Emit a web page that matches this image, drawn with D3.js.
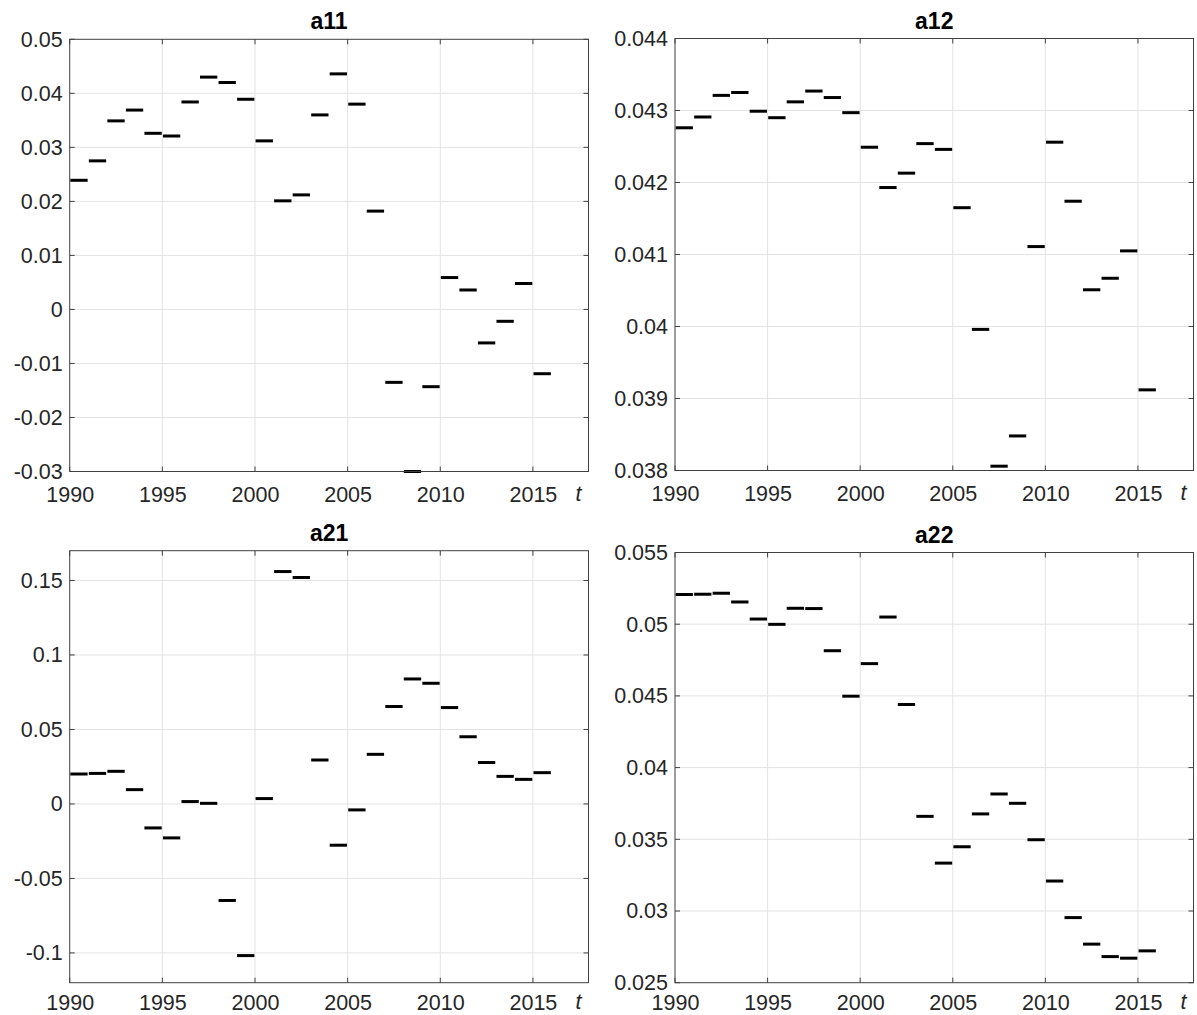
<!DOCTYPE html>
<html>
<head>
<meta charset="utf-8">
<script src="https://cdn.jsdelivr.net/npm/d3@7"></script>
<style>
  html, body { margin: 0; padding: 0; background: #fff; }
  svg { display: block; }
  text { font-family: "Liberation Sans", Arial, Helvetica, sans-serif; fill: #262626; }
</style>
</head>
<body>
<svg id="chart" width="1197" height="1015"></svg>
<script>
// Years: each coefficient holds for one year, drawn from t to t+1
const years = d3.range(1990, 2016);

const a11 = [0.0239, 0.0275, 0.0349, 0.0369, 0.0326, 0.0321, 0.0384, 0.0430, 0.0420, 0.0389,
             0.0312, 0.0201, 0.0212, 0.0360, 0.0436, 0.0380, 0.0182, -0.0135, -0.0300, -0.0143,
             0.0059, 0.0036, -0.0062, -0.0022, 0.0048, -0.0119];

const a12 = [0.04276, 0.04291, 0.04321, 0.04325, 0.04299, 0.04290, 0.04312, 0.04327, 0.04318, 0.04297,
             0.04249, 0.04193, 0.04213, 0.04254, 0.04246, 0.04165, 0.03996, 0.03806, 0.03848, 0.04111,
             0.04256, 0.04174, 0.04051, 0.04067, 0.04105, 0.03912];

const a21 = [0.0201, 0.0205, 0.0219, 0.0096, -0.0161, -0.0228, 0.0016, 0.0004, -0.0648, -0.1018,
             0.0036, 0.1560, 0.1520, 0.0295, -0.0277, -0.0040, 0.0333, 0.0654, 0.0839, 0.0810,
             0.0647, 0.0451, 0.0278, 0.0185, 0.0165, 0.0210];

const a22 = [0.05207, 0.05209, 0.05216, 0.05155, 0.05036, 0.04999, 0.05111, 0.05109, 0.04815, 0.04498,
             0.04725, 0.05050, 0.04440, 0.03660, 0.03334, 0.03448, 0.03677, 0.03816, 0.03751, 0.03497,
             0.03209, 0.02954, 0.02769, 0.02682, 0.02671, 0.02722];

const xTicks = [1990, 1995, 2000, 2005, 2010, 2015];
const xDomain = [1990, 2018];

const a11Ticks = [-0.03, -0.02, -0.01, 0, 0.01, 0.02, 0.03, 0.04, 0.05];
const a12Ticks = [0.038, 0.039, 0.040, 0.041, 0.042, 0.043, 0.044];
const a21Ticks = [-0.1, -0.05, 0, 0.05, 0.1, 0.15];
const a22Ticks = [0.025, 0.03, 0.035, 0.04, 0.045, 0.05, 0.055];

const a11Domain = [-0.03, 0.05];
const a12Domain = [0.038, 0.044];
const a21Domain = [-0.12, 0.17];
const a22Domain = [0.025, 0.055];

const panels = [
  { title: "a11", values: a11, ticks: a11Ticks, domain: a11Domain, x0: 69.7, x1: 588.5, y0: 39.3, y1: 471.5, pad: 15 },
  { title: "a12", values: a12, ticks: a12Ticks, domain: a12Domain, x0: 675,  x1: 1193.5, y0: 38.5, y1: 470.5, pad: 15 },
  { title: "a21", values: a21, ticks: a21Ticks, domain: a21Domain, x0: 69.7, x1: 588.5, y0: 550.7, y1: 982.7, pad: 12 },
  { title: "a22", values: a22, ticks: a22Ticks, domain: a22Domain, x0: 675,  x1: 1193.5, y0: 552.5, y1: 982.7, pad: 12 }
];

// MATLAB-like number formatting: no trailing zeros, "0" for zero
const fmt = v => {
  if (Math.abs(v) < 1e-12) return "0";
  return String(+v.toFixed(6));
};

const svg = d3.select("#chart");
const FS = 21.5;
const TITLE_FS = 23;
const tickLen = 5;

panels.forEach(p => {
  const x = d3.scaleLinear().domain(xDomain).range([p.x0, p.x1]);
  const y = d3.scaleLinear().domain(p.domain).range([p.y1, p.y0]);
  const g = svg.append("g");

  // grid
  g.append("g").selectAll("line.gx").data(xTicks.filter(t => t > xDomain[0])).join("line")
    .attr("x1", d => x(d)).attr("x2", d => x(d))
    .attr("y1", p.y0).attr("y2", p.y1)
    .attr("stroke", "#e3e3e3").attr("stroke-width", 1);
  g.append("g").selectAll("line.gy").data(p.ticks.filter(t => t > p.domain[0] && t < p.domain[1])).join("line")
    .attr("x1", p.x0).attr("x2", p.x1)
    .attr("y1", d => y(d)).attr("y2", d => y(d))
    .attr("stroke", "#e3e3e3").attr("stroke-width", 1);

  // segments: value for year t spans [t, t+1]
  g.append("g").selectAll("line.seg").data(years.map((yr, i) => ({ yr, v: p.values[i] }))).join("line")
    .attr("x1", d => x(d.yr) + 0.6).attr("x2", d => x(d.yr + 1) - 0.6)
    .attr("y1", d => y(d.v)).attr("y2", d => y(d.v))
    .attr("stroke", "#000").attr("stroke-width", 3);

  // bottom axis (labels only; ticks drawn inward below)
  const xAxis = d3.axisBottom(x).tickValues(xTicks).tickFormat(d3.format("d")).tickSize(0).tickPadding(p.pad);
  const gx = g.append("g").attr("transform", `translate(0,${p.y1})`).call(xAxis);
  gx.select(".domain").remove();
  gx.selectAll("text").attr("font-size", FS).style("fill", "#262626")
    .attr("font-family", "Liberation Sans, Arial, sans-serif");

  const yAxis = d3.axisLeft(y).tickValues(p.ticks).tickFormat(fmt).tickSize(0).tickPadding(7);
  const gy = g.append("g").attr("transform", `translate(${p.x0},0)`).call(yAxis);
  gy.select(".domain").remove();
  gy.selectAll("text").attr("font-size", FS).style("fill", "#262626")
    .attr("font-family", "Liberation Sans, Arial, sans-serif");

  // inward ticks on all four sides
  const tk = g.append("g").attr("stroke", "#404040").attr("stroke-width", 1);
  xTicks.forEach(t => {
    tk.append("line").attr("x1", x(t)).attr("x2", x(t)).attr("y1", p.y1).attr("y2", p.y1 - tickLen);
    tk.append("line").attr("x1", x(t)).attr("x2", x(t)).attr("y1", p.y0).attr("y2", p.y0 + tickLen);
  });
  p.ticks.forEach(t => {
    tk.append("line").attr("x1", p.x0).attr("x2", p.x0 + tickLen).attr("y1", y(t)).attr("y2", y(t));
    tk.append("line").attr("x1", p.x1).attr("x2", p.x1 - tickLen).attr("y1", y(t)).attr("y2", y(t));
  });

  // box
  g.append("rect")
    .attr("x", p.x0).attr("y", p.y0)
    .attr("width", p.x1 - p.x0).attr("height", p.y1 - p.y0)
    .attr("fill", "none").attr("stroke", "#404040").attr("stroke-width", 1);

  // title
  g.append("text")
    .attr("x", (p.x0 + p.x1) / 2).attr("y", p.y0 - 10)
    .attr("text-anchor", "middle")
    .attr("font-size", TITLE_FS).attr("font-weight", "bold")
    .style("fill", "#000")
    .text(p.title);

  // axis variable label
  g.append("text")
    .attr("x", p.x1 - 10).attr("y", p.y1 + p.pad + 0.71 * FS - 1)
    .attr("font-size", FS).attr("font-style", "italic")
    .attr("text-anchor", "middle")
    .text("t");
});
</script>
</body>
</html>
